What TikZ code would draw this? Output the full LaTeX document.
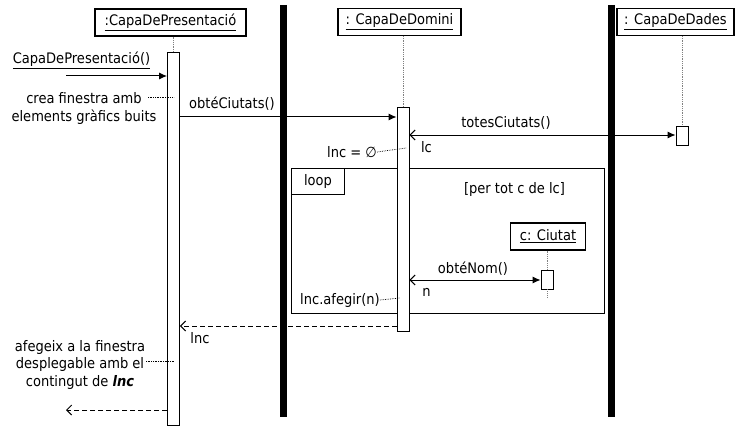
\documentclass[tikz,border=0pt]{standalone}
\usepackage{fontspec}
\setmainfont[FakeStretch=0.9]{DejaVu Sans}
\usetikzlibrary{arrows.meta}

\begin{document}
\begin{tikzpicture}[x=1pt,y=-1pt,font=\fontsize{14.5}{17.5}\selectfont]
\tikzstyle{obj} = [draw,fill=white,shape=rectangle,line width=1.1pt,minimum height=27pt,inner sep=0pt]
\tikzstyle{act} = [draw,fill=white,shape=rectangle,line width=0.9pt,minimum width=12pt,inner sep=0pt]
\tikzstyle{life} = [draw=gray,densely dotted,line width=0.8pt]
\tikzstyle{lbl} = [inner sep=0pt]
\tikzstyle{call} = [line width=1pt,-{Latex[length=8pt,width=7pt]}]
\tikzstyle{ret} = [line width=1pt,dash pattern=on 5pt off 3pt,-{Straight Barb[length=5pt,width=10pt]}]
\tikzstyle{both} = [line width=1pt,{Straight Barb[length=5pt,width=10pt]}-{Latex[length=8pt,width=7pt]}]
\tikzstyle{note} = [densely dotted,line width=0.7pt]
\tikzstyle{bar} = [line width=6.5pt]
\useasboundingbox (0,0) rectangle (749,433);
\draw[bar] (283.5,5) -- (283.5,417);
\draw[bar] (611.5,5) -- (611.5,417);
\draw[line width=0.9pt] (291,168) rectangle (604,313);
\node[draw,line width=0.9pt,anchor=north west,minimum width=53pt,minimum height=26pt,inner sep=0pt] (loop) at (291,168) {loop};
\node[lbl] (cond) at (514.5,189) {[per tot c de lc]};
\node[obj,minimum width=151pt] (pres) at (170.5,22.5) {\underline{:CapaDePresentació}};
\node[obj,minimum width=123pt] (dom) at (399.5,22) {\underline{: CapaDeDomini}};
\node[obj,minimum width=117pt] (dad) at (675.5,22) {\underline{: CapaDeDades}};
\node[obj,minimum width=75pt] (ciu) at (548,236.5) {\underline{c: Ciutat}};
\node[act,minimum height=373pt] (actP) at (173.5,238.5) {};
\node[act,minimum height=224pt] (actD) at (403,219) {};
\node[act,minimum height=19pt] (actB) at (682,135.5) {};
\node[act,minimum height=19pt] (actC) at (547,279.5) {};
\coordinate (ciuEnd) at (547,298);
\draw[life] (pres.south -| actP.north) -- (actP.north);
\draw[life] (dom.south -| actD.north) -- (actD.north);
\draw[life] (dad.south -| actB.north) -- (actB.north);
\draw[life] (ciu.south -| actC.north) -- (actC.north);
\draw[life] (actC.south) -- (ciuEnd);
\coordinate (m0) at (66,76);
\coordinate (m1) at (0,117);
\coordinate (m2) at (0,135);
\coordinate (m3) at (0,280);
\coordinate (m4) at (0,326);
\coordinate (m5) at (66,410);
\draw[call] (m0) -- (m0 -| actP.west);
\draw[call] (actP.east |- m1) -- (actD.west |- m1);
\draw[both] (actD.east |- m2) -- (actB.west |- m2);
\draw[both] (actD.east |- m3) -- (actC.west |- m3);
\draw[ret] (actD.west |- m4) -- (actP.east |- m4);
\draw[ret] (actP.west |- m5) -- (m5);
\node[lbl] (msg0) at (81.5,60) {\underline{CapaDePresentació()}};
\node[lbl,align=center] (nota1) at (84,108.5) {crea finestra amb\\elements gràfics buits};
\node[lbl] (msg1) at (232,104) {obtéCiutats()};
\node[lbl] (msg2) at (506,123) {totesCiutats()};
\node[lbl] (res2) at (426.5,147) {lc};
\node[lbl] (ini) at (352,152) {lnc = ∅};
\node[lbl] (msg3) at (473,269) {obtéNom()};
\node[lbl] (res3) at (426.5,292) {n};
\node[lbl] (afeg) at (340,300) {lnc.afegir(n)};
\node[lbl] (res4) at (200,338) {lnc};
\node[lbl,align=center] (nota2) at (80,364.5) {afegeix a la finestra\\desplegable amb el\\contingut de \textbf{\textit{lnc}}};
\coordinate (n1a) at (148,97);
\coordinate (n2a) at (146,361);
\draw[note] (n1a) -- (n1a -| actP.center);
\draw[note] (n2a) -- (n2a -| actP.center);
\draw[note] (ini.east) -- ++(29,-4);
\draw[note] (afeg.east) -- ++(20,-2);
\end{tikzpicture}
\end{document}
